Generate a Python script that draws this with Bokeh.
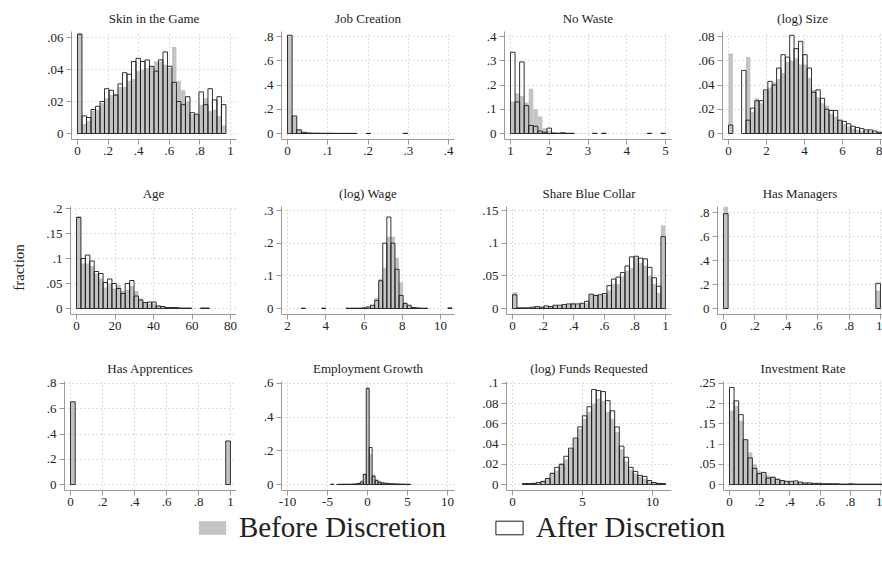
import math
from bokeh.plotting import figure
from bokeh.models import FixedTicker, Label, Legend, LegendItem, Range1d, CustomJSTickFormatter
from bokeh.layouts import column, row
from bokeh.embed import file_html
from bokeh.resources import INLINE

# ---------------- data (fractions per histogram bin) ----------------
titles = ["Skin in the Game", "Job Creation", "No Waste", "(log) Size",
          "Age", "(log) Wage", "Share Blue Collar", "Has Managers",
          "Has Apprentices", "Employment Growth", "(log) Funds Requested", "Investment Rate"]

# bin start and bin width of each histogram
bin_start = [0.0, 0.0, 1.0, 0.0, 0.0, 2.72, 0.0, 0.0, 0.0, -4.6, 0.7, 0.0]
bin_width = [0.0294, 0.0115, 0.1176, 0.23, 2.3, 0.213, 0.0294, 0.0294, 0.0294, 0.37, 0.33, 0.0303]

skin_before = [0.063, 0.006, 0.008, 0.014, 0.015, 0.019, 0.022, 0.024, 0.025, 0.029, 0.029, 0.033, 0.034, 0.039, 0.040, 0.041, 0.042, 0.045, 0.045, 0.043, 0.041, 0.054, 0.033, 0.027, 0.020, 0.012, 0.012, 0.018, 0.022, 0.014, 0.015, 0.011, 0.005]
skin_after = [0.062, 0.011, 0.010, 0.015, 0.017, 0.020, 0.028, 0.027, 0.024, 0.031, 0.038, 0.037, 0.045, 0.047, 0.045, 0.046, 0.042, 0.039, 0.046, 0.051, 0.042, 0.032, 0.020, 0.018, 0.023, 0.013, 0.012, 0.026, 0.018, 0.028, 0.021, 0.023, 0.018]

job_before = [0.80, 0.140, 0.035, 0.012, 0.005, 0.004, 0.003, 0.003, 0.002, 0.002, 0.002, 0.001, 0.001, 0.001, 0.001, 0.001, 0.001, 0.001, 0.001, 0.001, 0.0, 0.0, 0.0, 0.0, 0.0, 0.0, 0.0, 0.0, 0.0, 0.0, 0.0, 0.0, 0.0]
job_after = [0.81, 0.145, 0.030, 0.010, 0.005, 0.003, 0.003, 0.002, 0.002, 0.002, 0.001, 0.001, 0.001, 0.001, 0.001, 0.0, 0.0, 0.001, 0.0, 0.0, 0.0, 0.0, 0.0, 0.0, 0.0, 0.002, 0.0, 0.0, 0.0, 0.0, 0.0, 0.0, 0.0]

waste_before = [0.133, 0.165, 0.155, 0.128, 0.185, 0.100, 0.070, 0.022, 0.012, 0.004, 0.003, 0.004, 0.002, 0.002, 0.001, 0.001, 0.001, 0.001, 0.001, 0.001, 0.0, 0.0, 0.0, 0.0, 0.0, 0.0, 0.0, 0.0, 0.0, 0.0, 0.0, 0.0, 0.0, 0.0]
waste_after = [0.335, 0.130, 0.295, 0.115, 0.033, 0.030, 0.010, 0.005, 0.022, 0.002, 0.001, 0.003, 0.001, 0.001, 0.0, 0.0, 0.0, 0.0, 0.001, 0.0, 0.001, 0.0, 0.0, 0.0, 0.0, 0.0, 0.0, 0.0, 0.0, 0.0, 0.001, 0.0, 0.0, 0.001]

size_before = [0.066, 0.0, 0.0, 0.0, 0.063, 0.018, 0.029, 0.025, 0.035, 0.038, 0.042, 0.045, 0.050, 0.059, 0.060, 0.062, 0.057, 0.057, 0.046, 0.036, 0.030, 0.025, 0.023, 0.016, 0.014, 0.011, 0.008, 0.006, 0.004, 0.003, 0.002, 0.002, 0.002, 0.001, 0.001]
size_after = [0.007, 0.0, 0.0, 0.052, 0.011, 0.021, 0.027, 0.027, 0.036, 0.043, 0.040, 0.054, 0.065, 0.063, 0.081, 0.070, 0.076, 0.065, 0.054, 0.034, 0.036, 0.029, 0.020, 0.019, 0.019, 0.011, 0.010, 0.008, 0.006, 0.005, 0.004, 0.003, 0.003, 0.002, 0.001]

age_before = [0.185, 0.090, 0.090, 0.085, 0.070, 0.060, 0.042, 0.050, 0.040, 0.047, 0.035, 0.037, 0.045, 0.035, 0.020, 0.012, 0.010, 0.010, 0.006, 0.004, 0.003, 0.002, 0.002, 0.001, 0.001, 0.001, 0.001, 0.0, 0.0, 0.0, 0.0, 0.0, 0.0]
age_after = [0.182, 0.100, 0.107, 0.095, 0.074, 0.070, 0.052, 0.059, 0.050, 0.040, 0.030, 0.050, 0.056, 0.025, 0.017, 0.012, 0.013, 0.013, 0.005, 0.004, 0.002, 0.002, 0.002, 0.001, 0.001, 0.001, 0.0, 0.0, 0.001, 0.001, 0.0, 0.0, 0.0]

wage_before = [0.0, 0.0, 0.0, 0.0, 0.0, 0.0, 0.0, 0.0, 0.0, 0.0, 0.001, 0.001, 0.001, 0.001, 0.002, 0.003, 0.004, 0.010, 0.033, 0.090, 0.125, 0.220, 0.220, 0.155, 0.080, 0.020, 0.010, 0.004, 0.002, 0.001, 0.001, 0.001, 0.0, 0.0, 0.0, 0.0, 0.001]
wage_after = [0.001, 0.0, 0.0, 0.0, 0.0, 0.001, 0.0, 0.0, 0.0, 0.0, 0.0, 0.001, 0.001, 0.001, 0.001, 0.002, 0.005, 0.010, 0.025, 0.085, 0.200, 0.280, 0.200, 0.120, 0.040, 0.015, 0.010, 0.003, 0.002, 0.001, 0.001, 0.0, 0.0, 0.0, 0.0, 0.0, 0.002]

blue_before = [0.025, 0.001, 0.001, 0.001, 0.002, 0.002, 0.002, 0.003, 0.003, 0.004, 0.004, 0.005, 0.006, 0.008, 0.006, 0.007, 0.008, 0.021, 0.021, 0.020, 0.021, 0.028, 0.038, 0.037, 0.049, 0.058, 0.062, 0.078, 0.070, 0.066, 0.050, 0.038, 0.024, 0.127]
blue_after = [0.021, 0.001, 0.001, 0.001, 0.002, 0.003, 0.002, 0.004, 0.003, 0.005, 0.005, 0.006, 0.007, 0.007, 0.007, 0.008, 0.011, 0.022, 0.020, 0.021, 0.023, 0.035, 0.045, 0.048, 0.055, 0.065, 0.079, 0.080, 0.077, 0.076, 0.063, 0.047, 0.034, 0.110]

managers_before = [0.85, 0, 0, 0, 0, 0, 0, 0, 0, 0, 0, 0, 0, 0, 0, 0, 0, 0, 0, 0, 0, 0, 0, 0, 0, 0, 0, 0, 0, 0, 0, 0, 0, 0.15]
managers_after = [0.79, 0, 0, 0, 0, 0, 0, 0, 0, 0, 0, 0, 0, 0, 0, 0, 0, 0, 0, 0, 0, 0, 0, 0, 0, 0, 0, 0, 0, 0, 0, 0, 0, 0.21]

appr_before = [0.655, 0, 0, 0, 0, 0, 0, 0, 0, 0, 0, 0, 0, 0, 0, 0, 0, 0, 0, 0, 0, 0, 0, 0, 0, 0, 0, 0, 0, 0, 0, 0, 0, 0.345]
appr_after = [0.655, 0, 0, 0, 0, 0, 0, 0, 0, 0, 0, 0, 0, 0, 0, 0, 0, 0, 0, 0, 0, 0, 0, 0, 0, 0, 0, 0, 0, 0, 0, 0, 0, 0.345]

growth_before = [0.001, 0.001, 0.001, 0.002, 0.002, 0.003, 0.003, 0.004, 0.006, 0.010, 0.025, 0.065, 0.580, 0.180, 0.060, 0.030, 0.020, 0.015, 0.010, 0.008, 0.006, 0.005, 0.004, 0.004, 0.003, 0.003, 0.002, 0.002, 0.002, 0.001, 0.001, 0.001]
growth_after = [0.002, 0.0, 0.001, 0.002, 0.002, 0.002, 0.002, 0.003, 0.004, 0.006, 0.015, 0.060, 0.570, 0.220, 0.050, 0.025, 0.015, 0.010, 0.008, 0.006, 0.005, 0.004, 0.004, 0.003, 0.003, 0.002, 0.002, 0.0, 0.0, 0.0, 0.0, 0.0]

funds_before = [0.001, 0.001, 0.002, 0.002, 0.004, 0.006, 0.012, 0.014, 0.021, 0.025, 0.035, 0.045, 0.055, 0.065, 0.072, 0.080, 0.085, 0.083, 0.072, 0.065, 0.052, 0.035, 0.023, 0.015, 0.011, 0.008, 0.006, 0.003, 0.002, 0.002, 0.001]
funds_after = [0.001, 0.001, 0.001, 0.002, 0.003, 0.006, 0.011, 0.017, 0.020, 0.028, 0.036, 0.046, 0.057, 0.068, 0.077, 0.094, 0.093, 0.092, 0.083, 0.073, 0.057, 0.038, 0.027, 0.017, 0.013, 0.009, 0.008, 0.004, 0.002, 0.001, 0.001]

invest_before = [0.183, 0.195, 0.158, 0.110, 0.080, 0.050, 0.033, 0.028, 0.022, 0.020, 0.015, 0.011, 0.008, 0.007, 0.007, 0.005, 0.004, 0.003, 0.003, 0.004, 0.003, 0.003, 0.002, 0.002, 0.002, 0.002, 0.002, 0.002, 0.001, 0.001, 0.002, 0.001, 0.001, 0.002]
invest_after = [0.240, 0.207, 0.173, 0.111, 0.066, 0.040, 0.027, 0.030, 0.016, 0.018, 0.013, 0.010, 0.008, 0.008, 0.009, 0.006, 0.004, 0.004, 0.003, 0.003, 0.002, 0.002, 0.002, 0.002, 0.001, 0.001, 0.002, 0.001, 0.001, 0.001, 0.001, 0.001, 0.001, 0.001]

x_ticks = [[0, 0.2, 0.4, 0.6, 0.8, 1], [0, 0.1, 0.2, 0.3, 0.4], [1, 2, 3, 4, 5], [0, 2, 4, 6, 8],
           [0, 20, 40, 60, 80], [2, 4, 6, 8, 10], [0, 0.2, 0.4, 0.6, 0.8, 1], [0, 0.2, 0.4, 0.6, 0.8, 1],
           [0, 0.2, 0.4, 0.6, 0.8, 1], [-10, -5, 0, 5, 10], [0, 5, 10], [0, 0.2, 0.4, 0.6, 0.8, 1]]
y_ticks = [[0, 0.02, 0.04, 0.06], [0, 0.2, 0.4, 0.6, 0.8], [0, 0.1, 0.2, 0.3, 0.4], [0, 0.02, 0.04, 0.06, 0.08],
           [0, 0.05, 0.1, 0.15, 0.2], [0, 0.1, 0.2, 0.3], [0, 0.05, 0.1, 0.15], [0, 0.2, 0.4, 0.6, 0.8],
           [0, 0.2, 0.4, 0.6, 0.8], [0, 0.2, 0.4, 0.6], [0, 0.02, 0.04, 0.06, 0.08, 0.1], [0, 0.05, 0.1, 0.15, 0.2, 0.25]]

before_series = [skin_before, job_before, waste_before, size_before, age_before, wage_before,
                 blue_before, managers_before, appr_before, growth_before, funds_before, invest_before]
after_series = [skin_after, job_after, waste_after, size_after, age_after, wage_after,
                blue_after, managers_after, appr_after, growth_after, funds_after, invest_after]

# ---------------- layout (page pixels) ----------------
FONT = "'Liberation Serif', 'DejaVu Serif', serif"
BEFORE_FILL = "#c3c3c3"
AFTER_LINE = "#1c1c1c"
AXIS_COL = "#9a9a9a"
GRID_COL = "#bdbdbd"
TXT = "#222222"

col_cells = [(40, 258), (258, 478), (478, 690), (690, 882)]
row_cells = [(0, 176), (176, 352), (352, 511)]
row_frame = [(31, 139, 133), (206, 314, 308), (380, 490, 484)]   # top, bottom, zero
# per panel: frame left, frame right, px of first x tick, px of last x tick, px of top y tick
panel_px = [(71, 236, 77, 230, 37), (281, 454, 287, 448, 36), (504, 671, 510, 665, 36), (722, 882, 728, 880, 36),
            (70, 236, 76, 230, 208), (281, 454, 287, 440, 210), (506, 671, 512, 665, 210), (717, 882, 723, 880, 212),
            (64, 236, 70, 230, 382), (281, 454, 287, 447, 382), (506, 671, 512, 652, 382), (723, 882, 729, 880, 382)]

fmt = CustomJSTickFormatter(code="""
var s = String(Math.round(tick*1000)/1000);
if (s.startsWith('0.')) { s = s.slice(1); }
else if (s.startsWith('-0.')) { s = '-' + s.slice(2); }
return s;
""")


def make_panel(i):
    r, c = divmod(i, 4)
    cl, cr = col_cells[c]
    ct, cb = row_cells[r]
    ft, fb, z = row_frame[r]
    fl, fr, px0, px1, pyt = panel_px[i]
    xt = x_ticks[i]
    yt = y_ticks[i]
    sx = (xt[-1] - xt[0]) / (px1 - px0)
    x0 = xt[0] - (px0 - fl) * sx
    x1 = xt[0] + (fr - px0) * sx
    top = yt[-1] * (z - ft) / (z - pyt)
    sy = top / (z - ft)
    y0 = -(fb - z) * sy

    p = figure(width=cr - cl, height=cb - ct, output_backend="svg", toolbar_location=None,
               x_range=Range1d(x0, x1), y_range=Range1d(y0, top),
               min_border_left=fl - cl, min_border_right=cr - fr,
               min_border_top=ft - ct, min_border_bottom=cb - fb,
               title=titles[i])
    p.outline_line_color = None
    p.background_fill_color = "white"
    p.border_fill_color = "white"
    p.title.align = "center"
    p.title.text_font = FONT
    p.title.text_font_style = "normal"
    p.title.text_font_size = "13px"
    p.title.text_color = TXT
    p.title.standoff = 12

    for ax, ticks, stand in ((p.xaxis[0], xt, 2), (p.yaxis[0], yt, 3)):
        ax.ticker = FixedTicker(ticks=ticks)
        ax.formatter = fmt
        ax.axis_line_color = AXIS_COL
        ax.major_tick_line_color = AXIS_COL
        ax.major_tick_out = 5
        ax.major_tick_in = 0
        ax.minor_tick_line_color = None
        ax.major_label_text_font = FONT
        ax.major_label_text_font_size = "13px"
        ax.major_label_text_color = TXT
        ax.major_label_standoff = stand
    for g in (p.xgrid[0], p.ygrid[0]):
        g.grid_line_color = GRID_COL
        g.grid_line_dash = "1 3"
        g.grid_line_width = 1

    w = bin_width[i]
    s = bin_start[i]
    for vals, kind in ((before_series[i], "b"), (after_series[i], "a")):
        left, right, tops = [], [], []
        for k, v in enumerate(vals):
            if v > 0:
                left.append(s + k * w)
                right.append(s + (k + 1) * w)
                tops.append(v)
        if kind == "b":
            p.quad(left=left, right=right, bottom=0, top=tops, fill_color=BEFORE_FILL, line_color=None)
        else:
            p.quad(left=left, right=right, bottom=0, top=tops, fill_color=None,
                   line_color=AFTER_LINE, line_width=0.9)
    return p


panels = [make_panel(i) for i in range(12)]

# left label
frac = figure(width=40, height=511, output_backend="svg", toolbar_location=None,
              x_range=Range1d(0, 1), y_range=Range1d(0, 1), x_axis_location=None, y_axis_location=None,
              min_border_left=0, min_border_right=0, min_border_top=0, min_border_bottom=0)
frac.outline_line_color = None
frac.grid.visible = False
frac.add_layout(Label(x=18, y=511 - 267, x_units="screen", y_units="screen", text="fraction",
                      angle=math.pi / 2, text_align="center", text_baseline="middle",
                      text_font=FONT, text_font_size="15px", text_color=TXT))

# legend (glyph sources sit outside the visible range; only the legend swatches show)
leg = figure(width=882, height=60, output_backend="svg", toolbar_location=None,
             x_range=Range1d(0, 1), y_range=Range1d(0, 1), x_axis_location=None, y_axis_location=None,
             min_border_left=0, min_border_right=0, min_border_top=0, min_border_bottom=0)
leg.outline_line_color = None
leg.grid.visible = False
rb = leg.quad(left=[5], right=[6], top=[6], bottom=[5], fill_color=BEFORE_FILL, line_color=None)
ra = leg.quad(left=[5], right=[6], top=[6], bottom=[5], fill_color="white", line_color=AFTER_LINE, line_width=1)
legend = Legend(items=[LegendItem(label="Before Discretion", renderers=[rb]),
                       LegendItem(label="After Discretion", renderers=[ra])],
                orientation="horizontal", location=(195, 27), glyph_width=34, glyph_height=17,
                label_standoff=10, spacing=46, padding=0, margin=0,
                label_text_font=FONT, label_text_font_size="29px", label_text_color=TXT,
                border_line_color=None, background_fill_alpha=0)
leg.add_layout(legend)

grid = column(row(panels[0:4]), row(panels[4:8]), row(panels[8:12]))
page = column(row(frac, grid), leg)

open("out.html", "w").write(file_html(page, INLINE))
